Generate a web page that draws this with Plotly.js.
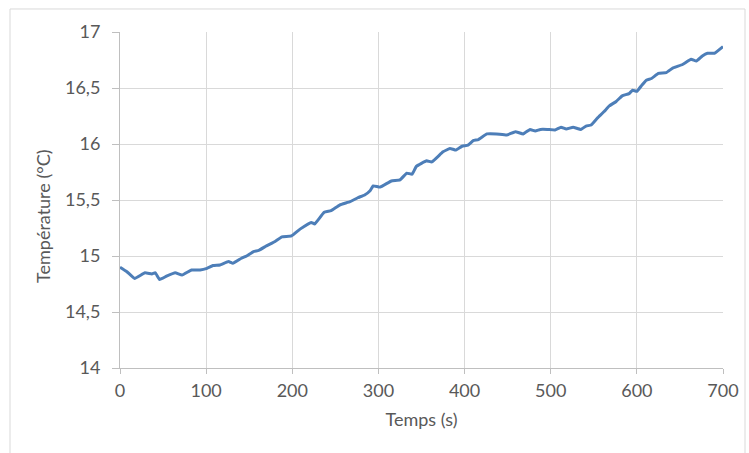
<!DOCTYPE html>
<html>
<head>
<meta charset="utf-8">
<script src="https://cdn.plot.ly/plotly-3.0.1.min.js"></script>
<style>
html,body{margin:0;padding:0;background:#fff;}
#chart{width:749px;height:453px;}
</style>
</head>
<body>
<div id="chart"></div>
<script>
const temps = [0,8,17,29,37,41,46,54,64,72,83,93,101,108,116,126,131,141,147,155,161,170,180,188,199,209,222,226,237,245,255,267,276,284,290,294,302,315,325,333,339,344,356,362,375,383,390,397,404,410,416,426,437,449,459,468,476,482,488,496,505,512,518,526,535,541,547,554,562,568,576,583,591,595,600,606,611,617,625,634,642,653,663,669,676,682,690,700];
const temperature = [14.90,14.86,14.80,14.85,14.84,14.85,14.79,14.82,14.85,14.83,14.875,14.875,14.89,14.915,14.92,14.95,14.935,14.98,15.00,15.04,15.05,15.09,15.13,15.17,15.18,15.24,15.30,15.286,15.39,15.405,15.455,15.485,15.52,15.545,15.58,15.625,15.615,15.67,15.68,15.74,15.73,15.80,15.85,15.84,15.93,15.96,15.946,15.98,15.99,16.03,16.04,16.09,16.09,16.08,16.11,16.09,16.13,16.116,16.13,16.13,16.125,16.15,16.134,16.15,16.13,16.16,16.17,16.23,16.29,16.34,16.38,16.43,16.45,16.48,16.47,16.527,16.57,16.585,16.63,16.637,16.68,16.71,16.756,16.74,16.786,16.81,16.81,16.87];
const xTitle = "Temps (s)";
const yTitle = "Température (°C)";

const font = {family: "Lato, 'Open Sans', sans-serif", size: 18, color: "#595959"};
Plotly.newPlot("chart", [{
  x: temps, y: temperature, type: "scatter", mode: "lines",
  line: {color: "#4D7EB8", width: 3, shape: "spline", smoothing: 0.3},
  hoverinfo: "skip"
}], {
  width: 749, height: 453,
  margin: {l: 120, r: 26, t: 32, b: 85},
  paper_bgcolor: "#fff", plot_bgcolor: "#fff",
  separators: ", ",
  font: font,
  showlegend: false,
  xaxis: {
    range: [0, 700], dtick: 100, tick0: 0,
    showgrid: true, gridcolor: "#d9d9d9", gridwidth: 1,
    zeroline: false, showline: true, linecolor: "#bfbfbf", linewidth: 1,
    ticks: "outside", ticklen: 5, tickcolor: "#bfbfbf",
    ticklabelstandoff: 1,
    tickfont: font,
    title: {text: xTitle, font: font, standoff: 13}
  },
  yaxis: {
    range: [14, 17], dtick: 0.5, tick0: 14,
    showgrid: true, gridcolor: "#d9d9d9", gridwidth: 1,
    zeroline: false, showline: true, linecolor: "#bfbfbf", linewidth: 1,
    ticks: "outside", ticklen: 7, tickcolor: "#bfbfbf",
    ticklabelstandoff: 8,
    tickfont: font
  },
  annotations: [{
    text: yTitle, xref: "paper", yref: "paper",
    x: -0.128, y: 0.452, xanchor: "center", yanchor: "middle",
    textangle: -90, showarrow: false, font: font
  }],
  shapes: [{
    type: "rect", xref: "paper", yref: "paper",
    x0: -0.1824, x1: 1.0365, y0: -0.3, y1: 1.0685,
    line: {color: "#d9d9d9", width: 1}, fillcolor: "rgba(0,0,0,0)", layer: "below"
  }]
}, {displayModeBar: false, staticPlot: true});
</script>
</body>
</html>
